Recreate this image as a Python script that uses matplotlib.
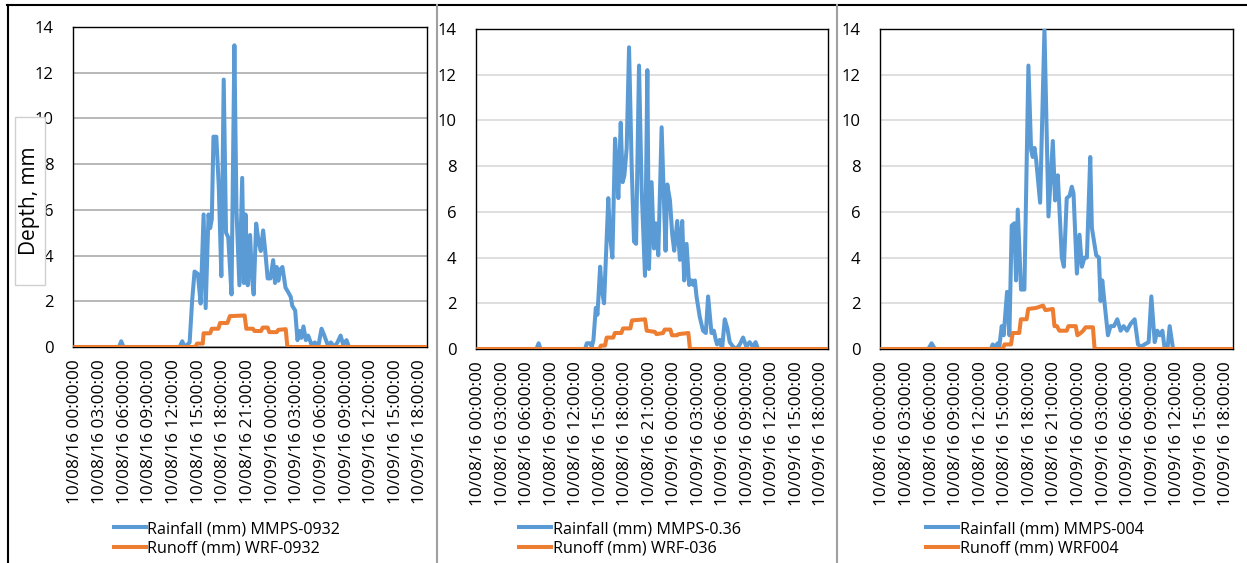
import numpy as np
import pandas as pd
import matplotlib
matplotlib.use('Agg')
import matplotlib.pyplot as plt
from matplotlib.patches import Rectangle
from matplotlib.lines import Line2D

plt.rcParams['font.family'] = ['Open Sans', 'DejaVu Sans']

# jam sejak 10/08/16 00:00
tick_jam = np.arange(0, 43, 3)
tick_label = pd.date_range('2016-10-08', periods=15, freq='3h').strftime('%m/%d/%y %H:%M:%S')

# panel 1
rain1_t = [0, 5.3, 5.57, 5.85, 12.68, 13.0, 13.3, 13.9, 14.2, 14.5, 14.9, 15.24, 15.6, 15.85, 16.2, 16.4,
           16.6, 16.8, 17.15, 17.45, 17.76, 18.05, 18.33, 18.6, 19.0, 19.35, 19.6, 19.96, 20.3, 20.5, 20.7,
           20.97, 21.26, 21.5, 21.7, 22.0, 22.3, 22.56, 22.85, 23.13, 23.4, 23.74, 24.07, 24.3, 24.5, 24.7,
           24.96, 25.2, 25.57, 25.9, 26.2, 26.4, 26.75, 27.03, 27.3, 27.5, 27.76, 28.05, 28.33, 28.74, 29.15,
           29.55, 29.96, 30.3, 30.7, 31.1, 31.5, 31.9, 32.28, 32.6, 33.0, 33.3, 42.8]
rain1_v = [0, 0, 0.25, 0, 0, 0.25, 0, 0.2, 2.0, 3.3, 3.2, 1.9, 5.8, 1.7, 5.8, 5.2,
           5.6, 9.2, 9.2, 7.0, 3.1, 11.7, 5.0, 4.8, 2.3, 13.2, 6.0, 2.7, 7.4, 2.8, 5.8,
           2.7, 4.9, 3.0, 2.3, 5.4, 4.6, 4.2, 5.1, 4.1, 3.0, 3.0, 3.8, 2.8, 3.5, 2.9,
           3.4, 3.5, 2.6, 2.4, 2.2, 1.8, 1.6, 0.3, 0.7, 0.4, 0.9, 0.3, 0.5, 0.1, 0.2,
           0.0, 0.8, 0.5, 0.1, 0.2, 0.0, 0.2, 0.5, 0.1, 0.3, 0.0, 0]
run1_t = [0, 14.6, 14.8, 15.5, 15.6, 16.4, 16.6, 17.4, 17.6, 18.5, 18.8, 20.6, 20.8, 21.6, 21.8, 22.6,
          22.8, 23.4, 23.6, 24.5, 24.7, 25.6, 25.8, 42.8]
run1_v = [0, 0, 0.15, 0.15, 0.6, 0.6, 0.8, 0.8, 1.05, 1.05, 1.35, 1.38, 0.8, 0.8, 0.7, 0.7,
          0.85, 0.85, 0.65, 0.65, 0.75, 0.78, 0, 0]

# panel 2
rain2_t = [0, 7.1, 7.37, 7.6, 13.06, 13.27, 13.68, 13.88, 14.08, 14.37, 14.57, 14.9, 15.1, 15.38, 15.9,
           16.1, 16.4, 16.73, 16.93, 17.13, 17.42, 17.66, 17.87, 18.15, 18.44, 18.76, 19.05, 19.3, 19.66,
           19.98, 20.39, 20.68, 20.88, 21.2, 21.49, 21.7, 22.02, 22.43, 22.71, 22.91, 23.12, 23.45, 23.73,
           23.97, 24.34, 24.67, 24.95, 25.19, 25.48, 25.8, 26.09, 26.29, 26.5, 26.7, 27.1, 27.5, 27.84,
           28.12, 28.53, 28.82, 29.06, 29.22, 29.55, 29.83, 30.16, 30.48, 30.77, 31.18, 31.58, 32.0, 32.4,
           32.8, 33.2, 33.6, 33.94, 34.23, 42.8]
rain2_v = [0, 0, 0.25, 0, 0, 0.25, 0.25, 0.1, 0.4, 1.8, 1.5, 3.6, 2.6, 2.0, 6.6,
           5.0, 4.0, 9.2, 8.0, 6.6, 9.9, 7.3, 7.6, 8.8, 13.2, 8.0, 4.7, 4.6, 12.4,
           7.0, 3.2, 12.2, 3.5, 7.3, 4.4, 5.5, 4.1, 9.7, 6.5, 4.3, 7.2, 6.5, 5.0,
           4.3, 5.6, 3.9, 5.6, 3.0, 4.6, 2.8, 3.0, 2.8, 3.0, 2.3, 1.4, 0.8, 0.7,
           2.3, 0.7, 0.8, 0.4, 0.2, 0.4, 0.0, 1.3, 0.9, 0.3, 0.1, 0.0, 0.2, 0.5,
           0.1, 0.3, 0.1, 0.3, 0.0, 0]
run2_t = [0, 14.8, 15.0, 15.5, 15.7, 16.5, 16.7, 17.5, 17.7, 18.6, 18.8, 20.4, 20.6, 21.6, 21.8, 22.6,
          22.8, 23.5, 23.7, 24.3, 24.5, 25.7, 25.9, 42.8]
run2_v = [0, 0, 0.15, 0.15, 0.5, 0.5, 0.7, 0.7, 0.9, 0.9, 1.25, 1.3, 0.8, 0.75, 0.65, 0.7,
          0.85, 0.85, 0.6, 0.6, 0.65, 0.7, 0, 0]

# panel 3
rain3_t = [0, 5.6, 6.0, 6.4, 13.25, 13.46, 13.78, 14.07, 14.27, 14.56, 14.8, 15.21, 15.5, 15.78, 16.1,
           16.31, 16.52, 16.92, 17.33, 17.82, 18.15, 18.35, 18.56, 18.76, 19.25, 19.78, 20.27, 20.8, 21.08,
           21.41, 21.9, 22.15, 22.5, 22.84, 23.12, 23.33, 23.74, 24.06, 24.35, 24.67, 24.96, 25.37, 25.57,
           26.1, 26.43, 26.63, 26.84, 27.12, 27.53, 27.85, 28.26, 28.67, 29.08, 29.45, 29.85, 30.3, 30.79,
           31.2, 31.6, 32.0, 32.5, 32.83, 33.24, 33.56, 33.85, 34.18, 34.46, 34.8, 35.07, 35.48, 42.8]
rain3_v = [0, 0, 0.25, 0, 0, 0.2, 0.1, 0.25, 0.1, 1.0, 0.6, 2.5, 0.6, 5.4, 5.5,
           3.0, 6.1, 2.6, 2.6, 12.4, 8.7, 8.4, 8.8, 8.3, 6.4, 14.0, 5.8, 9.1, 6.5,
           7.6, 4.0, 3.6, 6.6, 6.7, 7.1, 6.8, 3.3, 5.0, 3.6, 4.0, 4.0, 8.4, 5.3,
           4.1, 4.0, 2.1, 3.0, 2.0, 0.6, 1.0, 1.0, 1.3, 0.8, 1.0, 0.8, 1.1, 1.3,
           0.2, 0.1, 0.2, 0.3, 2.3, 0.3, 0.8, 0.6, 0.8, 0.0, 0.0, 1.0, 0.0, 0]
run3_t = [0, 14.7, 14.9, 15.7, 15.9, 16.7, 16.9, 17.6, 17.8, 18.8, 19.6, 19.9, 20.8, 21.0, 21.3, 21.6,
          22.5, 22.7, 23.6, 23.8, 24.2, 24.5, 24.8, 25.7, 25.9, 42.8]
run3_v = [0, 0, 0.2, 0.2, 0.7, 0.7, 1.3, 1.3, 1.75, 1.8, 1.9, 1.7, 1.75, 1.0, 1.0, 0.8,
          0.8, 1.0, 1.0, 0.6, 0.7, 0.8, 0.95, 0.95, 0, 0]

label_rain = ['Rainfall (mm) MMPS-0932', 'Rainfall (mm) MMPS-0.36', 'Rainfall (mm) MMPS-004']
label_run = ['Runoff (mm) WRF-0932', 'Runoff (mm) WRF-036', 'Runoff (mm) WRF004']

biru = '#5B9BD5'
oranye = '#ED7D31'

W, H = 1247, 563
fig = plt.figure(figsize=(W / 100, H / 100), dpi=100)

# kiri, kanan, atas, bawah (pixel)
kotak = [(73, 427, 27, 347), (476, 828, 29, 349), (880, 1233, 29, 349)]
pusat_legend = [227, 630, 1035]
warna_grid = ['#ababab', '#d9d9d9', '#d9d9d9']

data = [(rain1_t, rain1_v, run1_t, run1_v),
        (rain2_t, rain2_v, run2_t, run2_v),
        (rain3_t, rain3_v, run3_t, run3_v)]

for i in range(3):
    l, r, t, b = kotak[i]
    ax = fig.add_axes([l / W, 1 - b / H, (r - l) / W, (b - t) / H])
    rt, rv, ot, ov = data[i]
    h1, = ax.plot(rt, rv, color=biru, lw=2.9, solid_joinstyle='round', zorder=3)
    h2, = ax.plot(ot, ov, color=oranye, lw=2.9, solid_joinstyle='round', zorder=4)
    ax.set_xlim(-0.3, 42.8)
    ax.set_ylim(0, 14)
    ax.set_yticks(np.arange(0, 15, 2))
    ax.set_xticks(tick_jam)
    ax.set_xticklabels(tick_label, rotation=90, fontsize=12.4)
    ax.tick_params(axis='y', labelsize=12, length=0, pad=14)
    ax.tick_params(axis='x', length=0, pad=9)
    ax.grid(axis='y', color=warna_grid[i], lw=1.2)
    ax.set_axisbelow(True)
    for s in ax.spines.values():
        s.set_color('black')
        s.set_linewidth(1.0)
    fig.legend([h1, h2], [label_rain[i], label_run[i]], loc='upper center',
               bbox_to_anchor=(pusat_legend[i] / W, 1 - 513 / H), frameon=False,
               fontsize=11.6, handlelength=2.0, handletextpad=0.1, labelspacing=0.2,
               borderpad=0)

# garis bingkai
fig.add_artist(Line2D([7 / W, 1], [1 - 5 / H, 1 - 5 / H], color='black', lw=1.5))
fig.add_artist(Line2D([7.5 / W, 7.5 / W], [0, 1 - 5 / H], color='black', lw=1.5))
for xs in [437, 837]:
    fig.add_artist(Line2D([xs / W, xs / W], [0, 1 - 5 / H], color='#a0a0a0', lw=1.5))

# kotak label sumbu y
fig.add_artist(Rectangle((14.7 / W, 1 - 285 / H), 30 / W, 168 / H, facecolor='white',
                         edgecolor='#d0d0d0', lw=1.0, zorder=5))
fig.text(29.7 / W, 1 - 201 / H, 'Depth, mm', rotation=90, ha='center', va='center',
         fontsize=15, zorder=6)

fig.savefig('out.png', dpi=100)
